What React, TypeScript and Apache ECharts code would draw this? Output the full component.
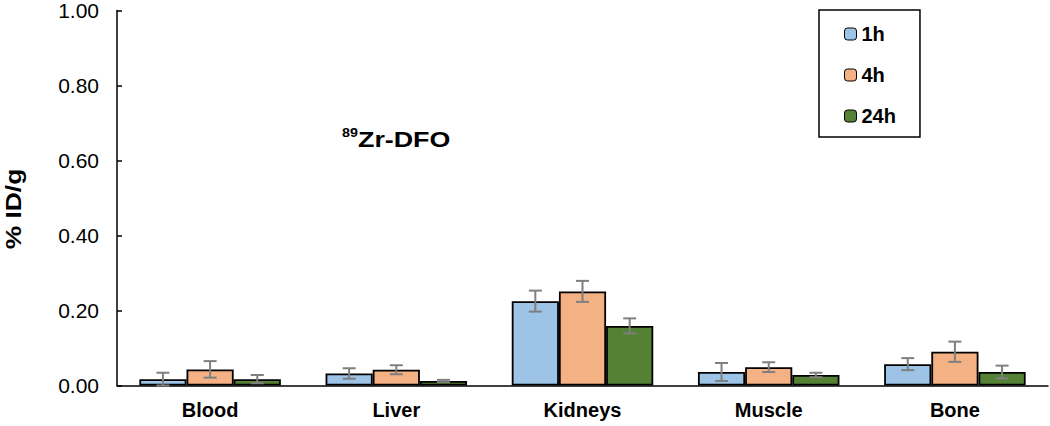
import React, { useEffect, useRef } from "react";
import * as echarts from "echarts";

const categories = ["Blood", "Liver", "Kidneys", "Muscle", "Bone"];
const seriesNames = ["1h", "4h", "24h"];
const values1h = [0.017, 0.032, 0.225, 0.036, 0.057];
const values4h = [0.043, 0.042, 0.251, 0.049, 0.09];
const values24h = [0.017, 0.012, 0.159, 0.028, 0.036];
const err1h = [0.017, 0.014, 0.028, 0.024, 0.016];
const err4h = [0.022, 0.012, 0.028, 0.013, 0.027];
const err24h = [0.011, 0.003, 0.02, 0.006, 0.017];
const colors = ["#9DC3E6", "#F4B183", "#548235"];

const allValues = [values1h, values4h, values24h];
const allErrors = [err1h, err4h, err24h];

const CAT_GAP = 0.24;

export default function App() {
  const ref = useRef<HTMLDivElement>(null);
  useEffect(() => {
    if (!ref.current) return;
    const chart = echarts.init(ref.current, undefined, { renderer: "svg" });
    const barSeries = seriesNames.map((name, k) => ({
      name,
      type: "bar",
      data: allValues[k],
      barGap: "0%",
      barCategoryGap: `${CAT_GAP * 100}%`,
      itemStyle: { color: colors[k], borderColor: "#000", borderWidth: 1.8 },
      z: 2,
    }));
    const errSeries = seriesNames.map((name, k) => ({
      name: "err" + name,
      type: "custom",
      z: 5,
      data: allValues[k].map((v, i) => [i, v, allErrors[k][i]]),
      encode: { x: 0, y: 1 },
      renderItem: (params: any, api: any) => {
        const cat = api.value(0);
        const v = api.value(1);
        const e = api.value(2);
        const catW = api.size([1, 0])[0];
        const barW = (catW * (1 - CAT_GAP)) / 3;
        const off = (k - 1) * barW;
        const top = api.coord([cat, v + e]);
        const bot = api.coord([cat, Math.max(v - e, 0)]);
        const x = top[0] + off;
        const cap = 6.5;
        const style = { stroke: "#7F7F7F", lineWidth: 2 };
        return {
          type: "group",
          children: [
            { type: "line", shape: { x1: x, y1: top[1], x2: x, y2: bot[1] }, style },
            { type: "line", shape: { x1: x - cap, y1: top[1], x2: x + cap, y2: top[1] }, style },
            { type: "line", shape: { x1: x - cap, y1: bot[1], x2: x + cap, y2: bot[1] }, style },
          ],
        };
      },
    }));
    chart.setOption({
      animation: false,
      backgroundColor: "#fff",
      grid: { left: 117, right: 2, top: 10, bottom: 40.5 },
      legend: {
        data: seriesNames,
        orient: "vertical",
        left: 819,
        top: 10,
        padding: [14, 24, 11, 25],
        itemWidth: 12,
        itemHeight: 12,
        itemGap: 21,
        borderColor: "#000",
        borderWidth: 1.5,
        itemStyle: { borderColor: "#000", borderWidth: 1 },
        textStyle: { fontFamily: "Liberation Sans", fontWeight: "bold", fontSize: 20, color: "#000" },
      },
      xAxis: {
        type: "category",
        data: categories,
        axisLine: { lineStyle: { color: "#000", width: 1.5 } },
        axisTick: { inside: true, length: 7, lineStyle: { color: "#000", width: 1.5 } },
        axisLabel: { fontFamily: "Liberation Sans", fontWeight: "bold", fontSize: 20, color: "#000", margin: 14 },
      },
      yAxis: {
        type: "value",
        min: 0,
        max: 1,
        interval: 0.2,
        splitLine: { show: false },
        axisLine: { show: true, lineStyle: { color: "#000", width: 1.5 } },
        axisTick: { show: true, inside: true, length: 5, lineStyle: { color: "#000", width: 1.5 } },
        axisLabel: {
          fontFamily: "Liberation Sans",
          fontSize: 21,
          color: "#000",
          margin: 18,
          formatter: (v: number) => v.toFixed(2),
        },
      },
      graphic: [
        {
          type: "text",
          x: 13,
          y: 209,
          rotation: Math.PI / 2,
          scaleX: 1.2,
          style: {
            text: "% ID/g",
            fontFamily: "Liberation Sans",
            fontWeight: "bold",
            fontSize: 22,
            fill: "#000",
            align: "center",
            verticalAlign: "middle",
          },
        },
        {
          type: "text",
          x: 342,
          y: 126,
          scaleX: 1.1,
          style: { text: "89", fontFamily: "Liberation Sans", fontWeight: "bold", fontSize: 13, fill: "#000" },
        },
        {
          type: "text",
          x: 358,
          y: 128,
          scaleX: 1.22,
          style: { text: "Zr-DFO", fontFamily: "Liberation Sans", fontWeight: "bold", fontSize: 22, fill: "#000" },
        },
      ],
      series: [...barSeries, ...errSeries],
    });
    return () => chart.dispose();
  }, []);
  return (
    <div
      ref={ref}
      style={{ position: "absolute", left: 0, top: 0, width: 1050, height: 426 }}
    />
  );
}
